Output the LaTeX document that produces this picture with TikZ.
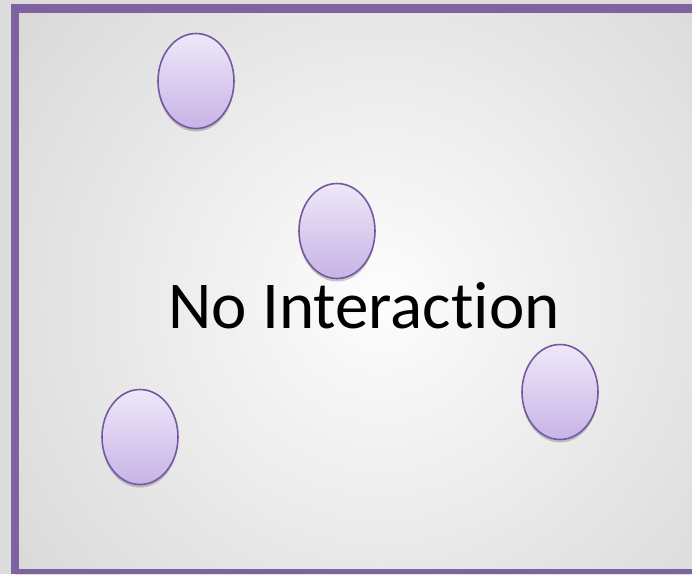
\documentclass[tikz,border=0pt]{standalone}
\usepackage{fontspec}
\setmainfont{Carlito}[Ligatures={NoCommon,NoRare,NoContextual}]
\usetikzlibrary{shadows,shapes.geometric}
\definecolor{framecol}{HTML}{7F62A0}
\definecolor{ovaltop}{HTML}{EEE8F9}
\definecolor{ovalbot}{HTML}{C8B3E6}
\definecolor{ovalline}{HTML}{7459A0}
\definecolor{bgedge}{HTML}{D4D4D4}
\definecolor{bgin}{HTML}{FDFDFD}
\definecolor{outside}{HTML}{DCDCDC}
\tikzset{
  oval/.style={ellipse, draw=ovalline, line width=1.6pt, top color=ovaltop, bottom color=ovalbot,
    minimum width=76pt, minimum height=95pt, inner sep=0pt,
    drop shadow={shadow xshift=0pt, shadow yshift=-3pt, opacity=0.2, fill=black}},
  lbl/.style={font=\fontsize{67}{70}\selectfont, text=black, inner sep=0pt}
}
\begin{document}
\begin{tikzpicture}[x=1pt,y=-1pt]
\useasboundingbox (0,0) rectangle (692,574);
\fill[outside] (0,0) rectangle (692,574);
\begin{scope}
\clip (15,8) rectangle (692,574);
\shade[inner color=bgin, outer color=bgedge] (-140,-220) rectangle (900,820);
\end{scope}
\fill[framecol] (11,4) rectangle (692,13);
\fill[framecol] (11,4) rectangle (19,574);
\fill[framecol] (11,569) rectangle (692,574);
\node[oval] (o1) at (196,81) {};
\node[oval] (o2) at (337,231) {};
\node[oval] (o3) at (560,392) {};
\node[oval] (o4) at (140,437) {};
\node[lbl, anchor=base] (t) at (364,328) {No Interaction};
\end{tikzpicture}
\end{document}
